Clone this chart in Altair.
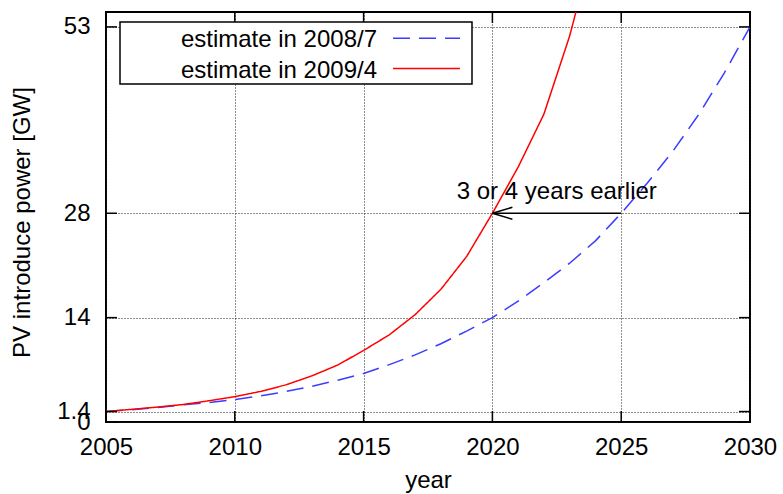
import altair as alt
import pandas as pd

# Installed PV capacity projections (GW), one value per year
years = list(range(2005, 2031))
est_2008_7 = [1.4, 1.65, 1.95, 2.3, 2.6, 3.0, 3.5, 4.1, 4.8, 5.6,
              6.5, 7.7, 9.0, 10.5, 12.2, 14.0, 16.2, 18.7, 21.3, 24.3,
              28.0, 32.0, 36.3, 41.2, 46.8, 53.0]
years_2009_4 = list(range(2005, 2025))
est_2009_4 = [1.4, 1.7, 2.0, 2.35, 2.85, 3.4, 4.1, 5.0, 6.2, 7.65,
              9.6, 11.7, 14.4, 17.8, 22.2, 28.0, 34.2, 41.3, 51.8, 65.0]

series_names = ["estimate in 2008/7", "estimate in 2009/4"]
series_colors = ["#3c3cff", "#ff0000"]

x_ticks = [2005, 2010, 2015, 2020, 2025, 2030]
y_ticks = [0, 1.4, 14, 28, 53]

# Annotation: the 28 GW target is reached earlier in the newer estimate
target_gw = 28
target_old_year = 2025
target_new_year = 2020
note_text = "3 or 4 years earlier"
note_x = 2022.5
note_y = 30.8

W, H = 644, 410
FONT = "Liberation Sans"
FS = 24

df = pd.concat([
    pd.DataFrame({"year": years, "gw": est_2008_7, "series": series_names[0]}),
    pd.DataFrame({"year": years_2009_4, "gw": est_2009_4, "series": series_names[1]}),
])

xs = alt.Scale(domain=[2005, 2030], nice=False, zero=False)
ys = alt.Scale(domain=[0, 55], nice=False)

x_axis = alt.Axis(values=x_ticks, format="d", title="year", grid=True,
                  ticks=False, tickSize=0, domain=False, labelFlush=False,
                  labelOverlap=False, labelPadding=32, labelBaseline="alphabetic",
                  titleBaseline="alphabetic", titleY=65, titleX=W / 2)
y_axis = alt.Axis(values=y_ticks, labelExpr="datum.value + ''",
                  title="PV introduce power [GW]", grid=True, ticks=False,
                  tickSize=0, domain=False, labelFlush=False, labelOverlap=False,
                  labelPadding=16, titleBaseline="middle", titleX=-84, titleY=210)

lines = alt.Chart(df).mark_line(strokeWidth=1.5, clip=True).encode(
    x=alt.X("year:Q", scale=xs, axis=x_axis),
    y=alt.Y("gw:Q", scale=ys, axis=y_axis),
    color=alt.Color("series:N", scale=alt.Scale(domain=series_names, range=series_colors), legend=None),
    strokeDash=alt.StrokeDash("series:N", scale=alt.Scale(domain=series_names, range=[[17, 9], [1, 0]]), legend=None),
)

# Inward tick marks on all four sides
xt = pd.DataFrame({"year": x_ticks})
yt = pd.DataFrame({"gw": y_ticks})
tick_style = dict(size=11, thickness=1.5, color="black", opacity=1)
ticks_bottom = alt.Chart(xt).mark_tick(orient="vertical", yOffset=-5.5, **tick_style).encode(
    x=alt.X("year:Q", scale=xs), y=alt.value(H))
ticks_top = alt.Chart(xt).mark_tick(orient="vertical", yOffset=5.5, **tick_style).encode(
    x=alt.X("year:Q", scale=xs), y=alt.value(0))
ticks_left = alt.Chart(yt).mark_tick(orient="horizontal", xOffset=5.5, **tick_style).encode(
    y=alt.Y("gw:Q", scale=ys), x=alt.value(0))
ticks_right = alt.Chart(yt).mark_tick(orient="horizontal", xOffset=-5.5, **tick_style).encode(
    y=alt.Y("gw:Q", scale=ys), x=alt.value(W))

# Arrow from the old to the new year for the 28 GW level
arrow_df = pd.DataFrame({"x0": [target_old_year], "x1": [target_new_year], "gw": [target_gw]})
arrow_line = alt.Chart(arrow_df).mark_rule(color="black", strokeWidth=1.5).encode(
    x=alt.X("x0:Q", scale=xs), x2="x1:Q", y=alt.Y("gw:Q", scale=ys))
arrow_head = alt.Chart(arrow_df).mark_point(
    shape="M0,0L1,-0.3M0,0L1,0.3", size=1600, filled=False,
    stroke="black", strokeWidth=1.5, opacity=1).encode(
    x=alt.X("x1:Q", scale=xs), y=alt.Y("gw:Q", scale=ys))

note_df = pd.DataFrame({"x": [note_x], "y": [note_y], "t": [note_text]})
note = alt.Chart(note_df).mark_text(font=FONT, fontSize=FS, color="black",
                                    align="center", baseline="middle").encode(
    x=alt.X("x:Q", scale=xs), y=alt.Y("y:Q", scale=ys), text="t:N")

# Key box in the upper-left corner: label on the left, line sample on the right
key_box = alt.Chart(pd.DataFrame({"a": [0]})).mark_rect(
    fill="white", stroke="black", strokeWidth=1.5).encode(
    x=alt.value(14), x2=alt.value(366), y=alt.value(10), y2=alt.value(72))
key_parts = [key_box]
for i, (name, col) in enumerate(zip(series_names, series_colors)):
    row_y = [26.3, 56.5][i]
    text_y = [34.7, 66.3][i]
    key_parts.append(alt.Chart(pd.DataFrame({"a": [0]})).mark_text(
        text=name, font=FONT, fontSize=FS, color="black", align="right",
        baseline="alphabetic").encode(x=alt.value(271), y=alt.value(text_y)))
    key_parts.append(alt.Chart(pd.DataFrame({"a": [0]})).mark_rule(
        color=col, strokeWidth=1.5, strokeDash=[17, 9] if i == 0 else [1, 0]).encode(
        x=alt.value(287), x2=alt.value(354), y=alt.value(row_y)))

chart = alt.layer(
    lines, arrow_line, arrow_head, note,
    ticks_bottom, ticks_top, ticks_left, ticks_right,
    *key_parts,
).properties(
    width=W, height=H,
    autosize=alt.AutoSizeParams(type="none"),
    padding={"left": 106, "top": 12, "right": 33, "bottom": 72},
    background="white",
).configure_view(
    stroke="black", strokeWidth=2,
).configure_axis(
    labelFont=FONT, labelFontSize=FS, labelColor="black",
    titleFont=FONT, titleFontSize=FS, titleColor="black", titleFontWeight="normal",
    gridColor="#1a1a1a", gridDash=[1, 2], gridWidth=1, gridOpacity=1,
)

chart.save("out.html", embed_options={"renderer": "svg", "actions": False})
